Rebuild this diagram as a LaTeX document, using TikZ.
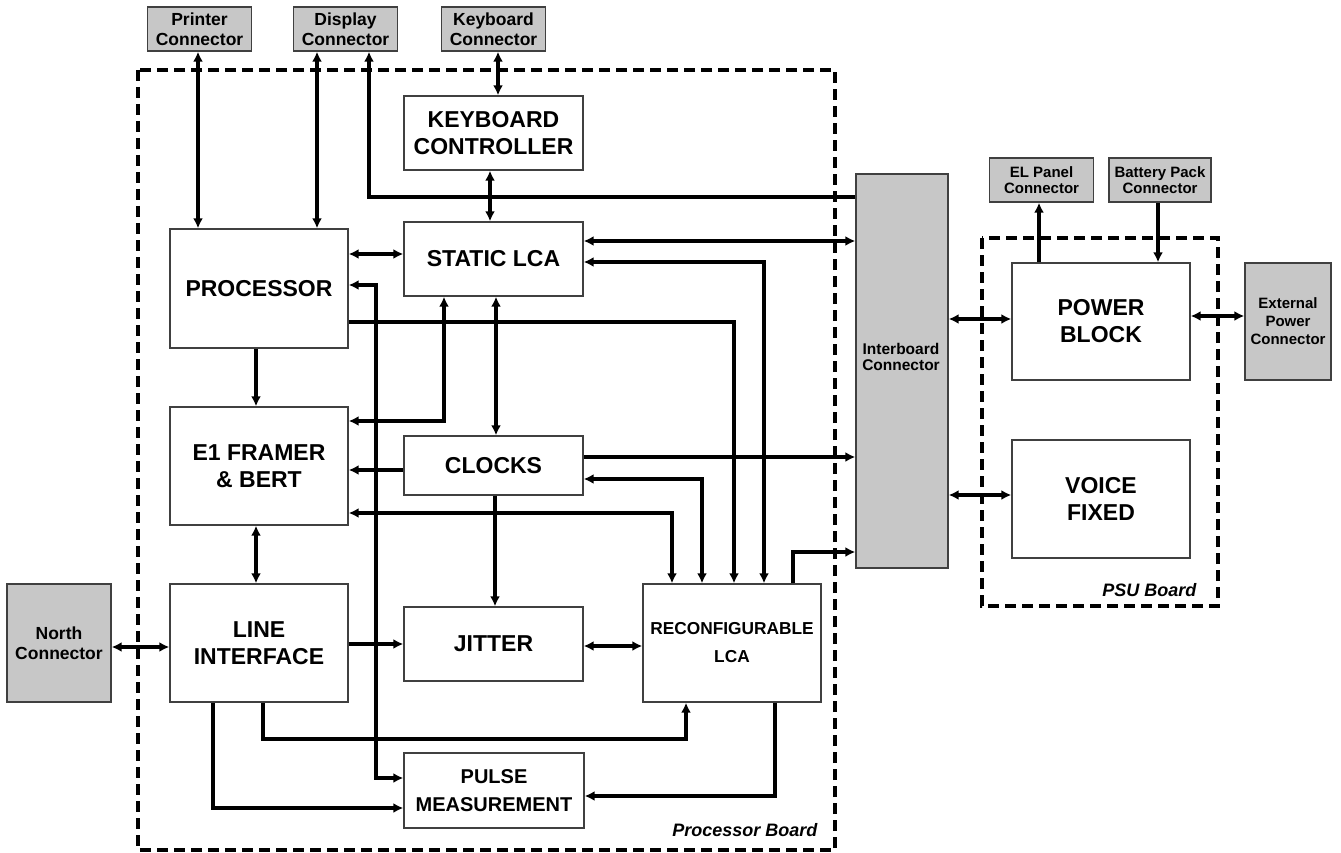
\documentclass[tikz,border=0pt]{standalone}
\usepackage{fontspec}
\setmainfont{Liberation Sans}
\usetikzlibrary{arrows.meta}

\begin{document}
\begin{tikzpicture}[
        x=1pt, y=-1pt,
        block/.style={draw=black!75, line width=1.4pt, fill=white, align=center, inner sep=0pt,
            minimum width=178pt, font=\fontsize{23}{27}\selectfont\bfseries},
        midblock/.style={block, font=\fontsize{17.3}{28}\selectfont\bfseries},
        conn/.style={block, fill=black!22, minimum width=104pt, minimum height=44pt,
            font=\fontsize{17.5}{20}\selectfont\bfseries},
        sconn/.style={conn, font=\fontsize{15}{16.5}\selectfont\bfseries},
        conntext/.style={align=center, inner sep=0pt, font=\fontsize{15.5}{16.5}\selectfont\bfseries},
        board/.style={line width=3.2pt, dash pattern=on 11pt off 6pt},
        boardname/.style={anchor=east, font=\fontsize{18}{20}\selectfont\bfseries\itshape},
        plain/.style={line width=3.2pt},
        wire/.style={plain, -{Latex[length=10pt,width=10pt]}},
        biwire/.style={plain, {Latex[length=10pt,width=10pt]}-{Latex[length=10pt,width=10pt]}}
    ]
        \useasboundingbox (0,0) rectangle (1341,853);

        % Boards
        \draw[board] (138,70) rectangle (835,850);
        \draw[board] (982,238) rectangle (1218,606);
        \node[boardname] (pbname) at (821,830) {Processor Board};
        \node[boardname] (psuname) at (1200,590) {PSU Board};

        % Outer connectors
        \node[conn] (prn) at (199.5,29) {Printer\\Connector};
        \node[conn] (disp) at (345.5,29) {Display\\Connector};
        \node[conn] (kbc) at (493.5,29) {Keyboard\\Connector};
        \node[conn, minimum height=118pt] (north) at (59,643) {North\\Connector};
        \node[sconn] (el) at (1041.5,180) {EL Panel\\Connector};
        \node[sconn, minimum width=102pt] (bat) at (1160,180) {Battery Pack\\Connector};
        \node[sconn, minimum width=86pt, minimum height=117pt, font=\fontsize{15}{18}\selectfont\bfseries] (ext) at (1288,321.5) {External\\Power\\Connector};
        \node[conn, minimum width=92pt, minimum height=394pt] (ibc) at (902,371) {};
        \node[conntext] (ibctxt) at (901,357) {Interboard\\Connector};

        % Processor board blocks
        \node[block, minimum width=179pt, minimum height=74pt] (kbd) at (493.5,133) {KEYBOARD\\CONTROLLER};
        \node[block, minimum width=179pt, minimum height=74pt] (slca) at (493.5,259) {STATIC LCA};
        \node[block, minimum height=119pt] (proc) at (259,288.5) {PROCESSOR};
        \node[block, minimum height=118pt] (e1) at (259,466) {E1 FRAMER\\\& BERT};
        \node[block, minimum width=179pt, minimum height=59pt] (clk) at (493.5,465.5) {CLOCKS};
        \node[block, minimum height=118pt] (lif) at (259,643) {LINE\\INTERFACE};
        \node[block, minimum width=179pt, minimum height=74pt] (jit) at (493.5,644) {JITTER};
        \node[midblock, minimum height=118pt] (rlca) at (732,643) {RECONFIGURABLE\\LCA};
        \node[midblock, minimum width=180pt, minimum height=75pt, font=\fontsize{20}{28}\selectfont\bfseries] (pulse) at (494,790.5) {PULSE\\MEASUREMENT};

        % PSU board blocks
        \node[block, minimum height=117pt] (pwr) at (1101,321.5) {POWER\\BLOCK};
        \node[block, minimum height=118pt] (vf) at (1101,499) {VOICE\\FIXED};

        % Top connectors
        \draw[biwire] (prn.south -| 198,0) -- (proc.north -| 198,0);
        \draw[biwire] (disp.south -| 317,0) -- (proc.north -| 317,0);
        \draw[wire] (ibc.west |- 0,197) -| (disp.south -| 369,0);
        \draw[biwire] (kbc.south -| 498,0) -- (kbd.north -| 498,0);
        \draw[biwire] (kbd.south -| 490,0) -- (slca.north -| 490,0);

        % Static LCA and processor
        \draw[biwire] (proc.east |- 0,254) -- (slca.west |- 0,254);
        \draw[biwire] (slca.east |- 0,241) -- (ibc.west |- 0,241);
        \draw[biwire] (proc.east |- 0,285) -| (376,778) -- (pulse.west |- 0,778);
        \draw[wire] (proc.south -| 256,0) -- (e1.north -| 256,0);
        \draw[biwire] (e1.east |- 0,421) -| (slca.south -| 444,0);
        \draw[biwire] (slca.south -| 496,0) -- (clk.north -| 496,0);

        % Into reconfigurable LCA
        \draw[biwire] (slca.east |- 0,262) -| (rlca.north -| 764,0);
        \draw[wire] (proc.east |- 0,322) -| (rlca.north -| 734,0);
        \draw[biwire] (clk.east |- 0,479) -| (rlca.north -| 702,0);
        \draw[biwire] (e1.east |- 0,513) -| (rlca.north -| 672,0);
        \draw[wire] (rlca.north -| 793,0) |- (ibc.west |- 0,552);

        % Clocks
        \draw[wire] (clk.west |- 0,470) -- (e1.east |- 0,470);
        \draw[wire] (clk.east |- 0,457) -- (ibc.west |- 0,457);
        \draw[wire] (clk.south -| 495,0) -- (jit.north -| 495,0);

        % Line interface
        \draw[biwire] (e1.south -| 256,0) -- (lif.north -| 256,0);
        \draw[biwire] (north.east |- 0,647) -- (lif.west |- 0,647);
        \draw[wire] (lif.east |- 0,644) -- (jit.west |- 0,644);
        \draw[biwire] (jit.east |- 0,646) -- (rlca.west |- 0,646);
        \draw[wire] (lif.south -| 263,0) |- (686,739) -- (rlca.south -| 686,0);
        \draw[wire] (lif.south -| 213,0) |- (pulse.west |- 0,808);
        \draw[wire] (rlca.south -| 775,0) |- (pulse.east |- 0,796);

        % PSU board
        \draw[biwire] (ibc.east |- 0,319) -- (pwr.west |- 0,319);
        \draw[biwire] (ibc.east |- 0,495) -- (vf.west |- 0,495);
        \draw[biwire] (pwr.east |- 0,316) -- (ext.west |- 0,316);
        \draw[wire] (pwr.north -| 1039,0) -- (el.south -| 1039,0);
        \draw[wire] (bat.south -| 1158,0) -- (pwr.north -| 1158,0);

    \end{tikzpicture}
\end{document}
